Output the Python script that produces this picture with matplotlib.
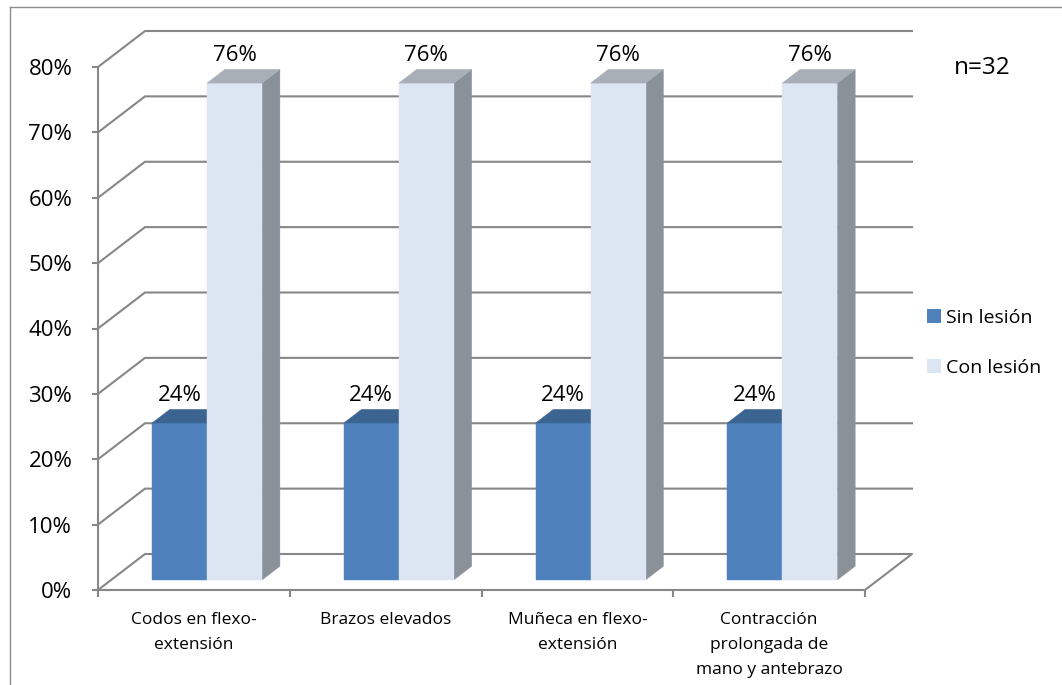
import matplotlib
matplotlib.use("Agg")
import matplotlib.pyplot as plt
import numpy as np
from matplotlib.patches import Polygon, Rectangle
from matplotlib.lines import Line2D
from matplotlib.transforms import IdentityTransform

# ---- data ----
categories = [
    "Codos en flexo-\nextensión",
    "Brazos elevados",
    "Muñeca en flexo-\nextensión",
    "Contracción\nprolongada de\nmano y antebrazo",
]
series_names = ["Sin lesión", "Con lesión"]
sin_lesion = [0.24, 0.24, 0.24, 0.24]
con_lesion = [0.76, 0.76, 0.76, 0.76]
y_ticks = [0.0, 0.1, 0.2, 0.3, 0.4, 0.5, 0.6, 0.7, 0.8]
sample_note = "n=32"

# ---- style ----
FONT = "Open Sans"
plt.rcParams["font.family"] = [FONT, "DejaVu Sans"]
GRID = "#878787"
FRONT = ["#4F81BD", "#DCE6F2"]
TOP = ["#3C6491", "#A8AFB7"]
SIDE = ["#34577F", "#8A9199"]

W, H = 1062, 685
fig = plt.figure(figsize=(W / 100, H / 100), dpi=100)
fig.patch.set_facecolor("white")

# chart frame (left and top edges)
fig.add_artist(Line2D([10 / W, 10 / W], [0, 1 - 7 / H], color="#8C8C8C", lw=1.0,
                      transform=fig.transFigure))
fig.add_artist(Line2D([10 / W, 1], [1 - 7 / H, 1 - 7 / H], color="#8C8C8C", lw=1.0,
                      transform=fig.transFigure))

ax = fig.add_axes([98 / W, 1 - 590 / H, 767 / W, 523 / H])
ax.set_xlim(-0.5, len(categories) - 0.5)
ax.set_ylim(y_ticks[0], y_ticks[-1])
ax.patch.set_visible(False)
for s in ("top", "right"):
    ax.spines[s].set_visible(False)
for s in ("left", "bottom"):
    ax.spines[s].set_color(GRID)
    ax.spines[s].set_linewidth(1.5)

# oblique depth vector (pixels) from front plane to back wall
DEPTH = np.array([47.0, 36.0])


def proj(x, y, d):
    return ax.transData.transform((x, y)) + d * DEPTH


ident = IdentityTransform()

# back wall gridlines + left wall diagonals + floor
x0, x1 = ax.get_xlim()
for v in y_ticks:
    pts = [proj(x0, v, 0), proj(x0, v, 1), proj(x1, v, 1)]
    if v == y_ticks[0]:
        pts.append(proj(x1, v, 0))
    pts = np.array(pts)
    ax.add_artist(Line2D(pts[:, 0], pts[:, 1], color=GRID, lw=1.5,
                         transform=ident, clip_on=False, zorder=1))

# bars
bw = 0.287
f1, f2 = 0.28, 0.66
series = [sin_lesion, con_lesion]
for i in range(len(categories)):
    for k, vals in enumerate(series):
        v = vals[i]
        left = i - bw if k == 0 else i
        right = left + bw
        front = [proj(left, 0, f1), proj(right, 0, f1), proj(right, v, f1), proj(left, v, f1)]
        top = [proj(left, v, f1), proj(right, v, f1), proj(right, v, f2), proj(left, v, f2)]
        side = [proj(right, 0, f1), proj(right, 0, f2), proj(right, v, f2), proj(right, v, f1)]
        for poly, col in ((side, SIDE[k]), (front, FRONT[k]), (top, TOP[k])):
            ax.add_patch(Polygon(np.array(poly), closed=True, facecolor=col,
                                 edgecolor=col, lw=0.3, transform=ident,
                                 clip_on=False, zorder=3 + k))
        lx = proj(left + bw / 2, v, f1)[0]
        ly = proj(left + bw / 2, v, f2)[1] + 3
        ax.text(lx, ly, f"{v * 100:.0f}%", transform=ident, ha="center", va="bottom",
                fontsize=16, color="black", zorder=6)

# axes ticks
ax.set_yticks(y_ticks)
ax.set_yticklabels([f"{t * 100:.0f}%" for t in y_ticks])
ax.tick_params(axis="y", direction="out", length=4.5, width=1.5, color=GRID,
               pad=14, labelsize=16)
ax.set_xticks(range(len(categories)))
ax.set_xticklabels(categories, fontsize=12.5, linespacing=1.78, va="top")
ax.set_xticks(np.arange(x0, x1 + 0.01, 1.0), minor=True)
ax.tick_params(axis="x", which="major", length=0, pad=15.5)
ax.tick_params(axis="x", which="minor", direction="out", length=5, width=1.5, color=GRID)

# legend
handles = [Rectangle((0, 0), 1, 1, facecolor=c, edgecolor="none") for c in FRONT]
fig.legend(handles, series_names, loc="center left", bbox_to_anchor=(927 / W, 1 - 343 / H),
           frameon=False, fontsize=14, handlelength=0.7, handleheight=0.7,
           handletextpad=0.3, labelspacing=1.65, borderaxespad=0, borderpad=0)

fig.text(954 / W, 1 - 68 / H, sample_note, ha="left", va="center", fontsize=17.5)

fig.savefig("out.png", dpi=100, facecolor="white")
